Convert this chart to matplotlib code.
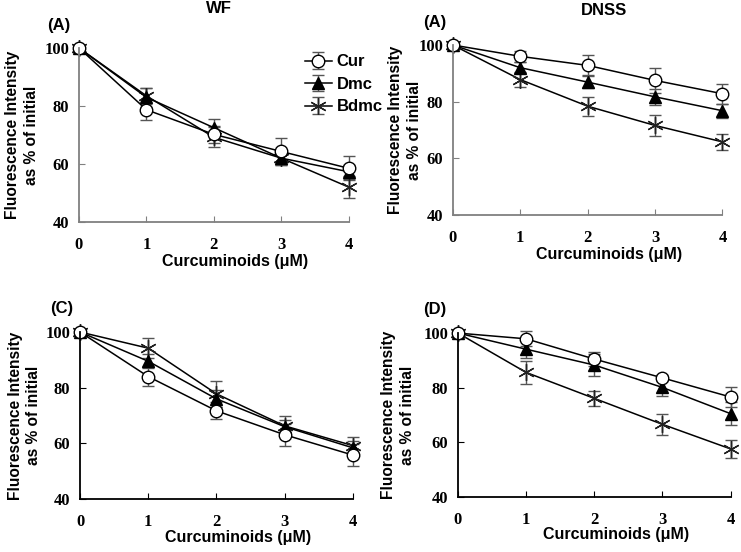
import matplotlib
matplotlib.use("Agg")
import matplotlib.pyplot as plt

conc = [0, 1, 2, 3, 4]

# WF (A)
wf_cur = [100, 78.7, 70.2, 64.3, 58.5]
wf_cur_err = [0.5, 3.5, 3.0, 4.5, 4.2]
wf_dmc = [100, 83.0, 72.5, 62.0, 57.3]
wf_dmc_err = [0.5, 3.2, 3.0, 2.2, 2.5]
wf_bdmc = [100, 83.5, 69.2, 62.0, 52.0]
wf_bdmc_err = [0.8, 2.8, 3.5, 2.0, 3.8]

# DNSS (A)
dn_cur = [100, 96.0, 92.8, 87.5, 82.8]
dn_cur_err = [0.5, 2.0, 3.5, 4.5, 3.6]
dn_dmc = [100, 92.0, 86.9, 81.7, 76.8]
dn_dmc_err = [0.5, 2.0, 2.0, 2.8, 2.5]
dn_bdmc = [100, 87.8, 78.4, 71.6, 65.8]
dn_bdmc_err = [0.5, 2.8, 3.3, 3.8, 2.8]

# (C)
c_cur = [100, 84.0, 71.7, 63.1, 55.8]
c_cur_err = [0.5, 3.5, 3.0, 4.0, 4.0]
c_dmc = [100, 89.5, 76.0, 66.0, 58.4]
c_dmc_err = [0.5, 2.5, 3.0, 2.5, 2.5]
c_bdmc = [100, 94.2, 77.8, 66.3, 59.2]
c_bdmc_err = [0.5, 3.5, 4.6, 3.6, 3.2]

# (D)
d_cur = [100, 97.9, 90.5, 83.6, 76.6]
d_cur_err = [0.5, 2.7, 2.7, 1.0, 3.6]
d_dmc = [100, 94.1, 88.3, 80.1, 70.5]
d_dmc_err = [0.5, 3.4, 3.9, 3.0, 4.2]
d_bdmc = [100, 85.6, 76.1, 66.6, 57.6]
d_bdmc_err = [0.5, 4.2, 2.7, 3.9, 3.3]

# position, tag, tag offset, title, title x/y, data..., spine colour, ylabel x
panels = [
    ([0.1066, 0.598, 0.364, 0.315], "(A)", (-0.118, 1.13), "WF", (0.52, 1.23),
     wf_cur, wf_cur_err, wf_dmc, wf_dmc_err, wf_bdmc, wf_bdmc_err, "#808080", -0.211),
    ([0.611, 0.6105, 0.364, 0.308], "(A)", (-0.11, 1.13), "DNSS", (0.56, 1.2),
     dn_cur, dn_cur_err, dn_dmc, dn_dmc_err, dn_bdmc, dn_bdmc_err, "#808080", -0.178),
    ([0.108, 0.096, 0.368, 0.3025], "(C)", (-0.11, 1.14), "", (0.5, 1.2),
     c_cur, c_cur_err, c_dmc, c_dmc_err, c_bdmc, c_bdmc_err, "black", -0.203),
    ([0.618, 0.0996, 0.368, 0.297], "(D)", (-0.128, 1.146), "", (0.5, 1.2),
     d_cur, d_cur_err, d_dmc, d_dmc_err, d_bdmc, d_bdmc_err, "black", -0.22),
]

sans = "Liberation Sans"
serif = "Liberation Serif"
asterisk = (6, 2, 0)

fig = plt.figure(figsize=(7.41, 5.52), dpi=100)

for i, (pos, tag, tagxy, title, txy, cur, cur_e, dmc, dmc_e, bdmc, bdmc_e, spc, ylx) in enumerate(panels):
    ax = fig.add_axes(pos)
    ebkw = dict(ecolor="#555555", elinewidth=1.0, capsize=4, capthick=1.0, clip_on=False)
    ax.errorbar(conc, bdmc, yerr=bdmc_e, color="black", lw=1.1, marker=asterisk, ms=12,
                mec="#222222", mew=1.0, label="Bdmc", **ebkw)
    ax.errorbar(conc, dmc, yerr=dmc_e, color="black", lw=1.1, marker="^", ms=9,
                mfc="black", mec="black", label="Dmc", **ebkw)
    ax.errorbar(conc, cur, yerr=cur_e, color="black", lw=1.1, marker="o", ms=9,
                mfc="white", mec="black", mew=1.0, label="Cur", **ebkw)
    ax.set_xlim(0, 4)
    ax.set_ylim(40, 100)
    ax.set_xticks(conc)
    ax.set_yticks([40, 60, 80, 100])
    for s in ["top", "right"]:
        ax.spines[s].set_visible(False)
    for s in ["left", "bottom"]:
        ax.spines[s].set_color(spc)
        ax.spines[s].set_linewidth(1.3)
    ax.tick_params(direction="in", length=4, color=spc)
    ax.tick_params(axis="x", pad=11)
    ax.tick_params(axis="y", pad=7)
    for lab in ax.get_xticklabels() + ax.get_yticklabels():
        lab.set_fontfamily(serif)
        lab.set_fontweight("bold")
        lab.set_fontsize(12)
    ax.set_xlabel("Curcuminoids (\u03bcM)", fontfamily=sans, fontweight="bold", fontsize=11.5)
    ax.xaxis.label.set_va("center")
    ax.xaxis.set_label_coords(0.58, -0.23)
    ax.set_ylabel("Fluorescence Intensity\nas % of initial", fontfamily=sans, fontweight="bold",
                  fontsize=11.2, linespacing=1.3)
    ax.yaxis.label.set_va("center")
    ax.yaxis.set_label_coords(ylx, 0.5)
    ax.text(tagxy[0], tagxy[1], tag, transform=ax.transAxes, fontfamily=sans, fontweight="bold",
            fontsize=12, ha="left", va="center")
    if title:
        ax.text(txy[0], txy[1], title, transform=ax.transAxes, fontfamily=sans, fontweight="bold",
                fontsize=12, ha="center", va="center")
    if i == 0:
        h, l = ax.get_legend_handles_labels()
        ax.legend(h[::-1], l[::-1], loc="upper right", bbox_to_anchor=(1.17, 1.03), frameon=False,
                  prop={"family": sans, "weight": "bold", "size": 12}, handlelength=1.6,
                  handletextpad=0.3, labelspacing=0.45, borderpad=0.2)

fig.savefig("out.png", dpi=100)
